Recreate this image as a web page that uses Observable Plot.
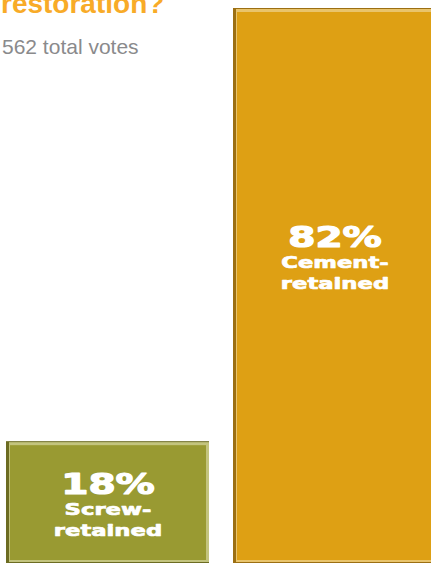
<!DOCTYPE html>
<html>
<head>
<meta charset="utf-8">
<script src="https://cdn.jsdelivr.net/npm/d3@7"></script>
<script src="https://cdn.jsdelivr.net/npm/@observablehq/plot@0.6"></script>
<style>
  html, body { margin: 0; padding: 0; background: #fff; }
  #wrap { position: relative; width: 431px; height: 564px; overflow: hidden; }
  #wrap svg { overflow: hidden; display: block; }
</style>
</head>
<body>
<div id="wrap"></div>
<script>
// ---- data ----
const titleText = "restoration?";
const subtitleText = "562 total votes";
const categories = ["Screw-retained", "Cement-retained"];
const values = [18, 82];
const pctLabels = ["18%", "82%"];
const labelLine1 = ["Screw-", "Cement-"];
const labelLine2 = ["retained", "retained"];

// ---- styles ----
const mainColor = {"Screw-retained": "#999a32", "Cement-retained": "#dea014"};
const darkEdge  = {"Screw-retained": "#6c6c22", "Cement-retained": "#9c6f12"};
const lightEdge = {"Screw-retained": "#c3c47e", "Cement-retained": "#e9c46c"};

const data = categories.map((c, i) => ({
  category: c, value: values[i], pct: pctLabels[i], l1: labelLine1[i], l2: labelLine2[i]
}));

const labelY = d => d.value * 0.57;

const chart = Plot.plot({
  width: 431,
  height: 564,
  margin: 0,
  style: {background: "#fff"},
  x: {type: "band", domain: categories, range: [5, 437], paddingInner: 0.105, paddingOuter: 0, axis: null},
  y: {domain: [0, d3.max(values)], range: [563, 8], axis: null},
  marks: [
    Plot.barY(data, {x: "category", y: "value", fill: d => darkEdge[d.category]}),
    Plot.barY(data, {x: "category", y: "value", fill: d => lightEdge[d.category], insetLeft: 3, insetTop: 1, insetBottom: 1}),
    Plot.barY(data, {x: "category", y: "value", fill: d => mainColor[d.category], insetLeft: 4, insetTop: 4, insetRight: 3, insetBottom: 3}),
    Plot.text(data, {x: "category", y: labelY, text: "pct", fill: "#fff", stroke: "#fff", strokeWidth: 1.2, fontSize: 29, fontWeight: "bold",
      fontFamily: "DejaVu Sans", lineAnchor: "bottom", className: "pct"}),
    Plot.text(data, {x: "category", y: labelY, text: "l1", dy: 21, fill: "#fff", stroke: "#fff", strokeWidth: 0.7, fontSize: 16, fontWeight: "bold",
      fontFamily: "DejaVu Sans", lineAnchor: "bottom", className: "word"}),
    Plot.text(data, {x: "category", y: labelY, text: "l2", dy: 42, fill: "#fff", stroke: "#fff", strokeWidth: 0.7, fontSize: 16, fontWeight: "bold",
      fontFamily: "DejaVu Sans", lineAnchor: "bottom", className: "word"})
  ]
});

document.getElementById("wrap").appendChild(chart);

const svg = d3.select(chart);
svg.append("text")
  .attr("x", 1).attr("y", 13)
  .attr("text-anchor", "start")
  .attr("font-family", "'Liberation Sans', Arial, sans-serif")
  .attr("font-weight", "bold").attr("font-size", 28)
  .attr("fill", "#f8ab28")
  .text(titleText);
svg.append("text")
  .attr("x", 2).attr("y", 54)
  .attr("text-anchor", "start")
  .attr("font-family", "'Liberation Sans', Arial, sans-serif")
  .attr("font-size", 21)
  .attr("fill", "#8a8a8c")
  .text(subtitleText);

// widen the heavy labels horizontally around their centre (reference uses an extended black face)
function stretch(sel, k) {
  chart.querySelectorAll(sel + " text").forEach(t => {
    const parent = t.parentNode;
    const r = t.getBoundingClientRect();
    const ctm = parent.getScreenCTM();
    const cx = (r.x + r.width / 2 - ctm.e) / ctm.a;
    const g = document.createElementNS("http://www.w3.org/2000/svg", "g");
    g.setAttribute("transform", `translate(${cx},0) scale(${k},1) translate(${-cx},0)`);
    parent.insertBefore(g, t);
    g.appendChild(t);
  });
}
stretch(".pct", 1.35);
stretch(".word", 1.42);
</script>
</body>
</html>
